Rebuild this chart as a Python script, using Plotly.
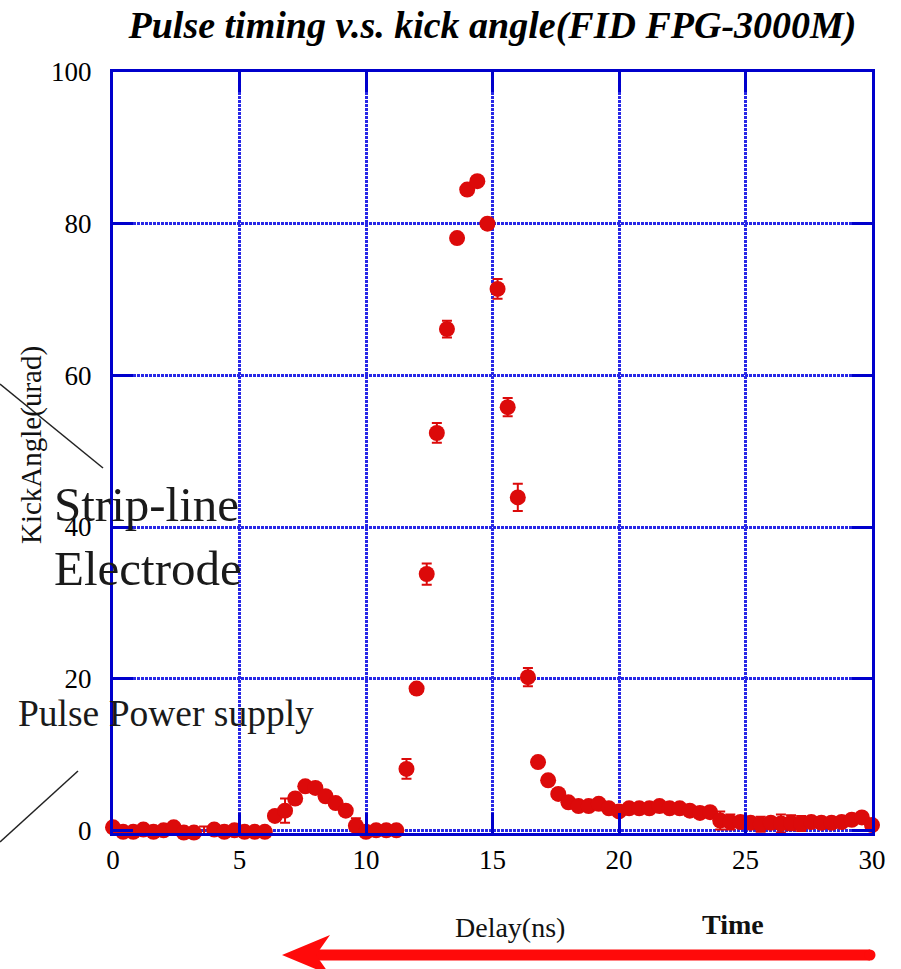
import numpy as np
import plotly.graph_objects as go

# Delay scan (ns) and measured kick angle (urad)
delay_ns = np.round(np.arange(0, 30.0001, 0.4), 1).tolist()
kick_urad = [
    0.4, -0.2, -0.2, 0.1, -0.2, 0.0, 0.4, -0.3, -0.3, -1.0,
    0.1, -0.2, 0.0, -0.2, -0.2, -0.2, 1.9, 2.6, 4.2, 5.8,
    5.6, 4.5, 3.6, 2.6, 0.6, -0.2, 0.0, 0.0, 0.0, 8.1,
    18.7, 33.8, 52.4, 66.1, 78.1, 84.5, 85.6, 80.0, 71.4, 55.8,
    43.9, 20.2, 9.0, 6.6, 4.8, 3.7, 3.2, 3.2, 3.5, 2.9,
    2.5, 2.9, 2.9, 2.9, 3.2, 2.9, 2.9, 2.6, 2.3, 2.4,
    1.3, 1.1, 1.1, 1.0, 0.8, 1.0, 0.9, 1.0, 0.9, 1.1,
    1.0, 1.0, 1.1, 1.4, 1.7, 0.7,
]
kick_err = [
    0.4, 0.4, 0.4, 0.4, 0.4, 0.4, 0.4, 0.4, 0.4, 1.5,
    0.4, 0.4, 0.4, 0.4, 0.4, 0.4, 0.5, 1.6, 0.5, 0.5,
    0.5, 0.5, 0.5, 0.5, 1.0, 0.4, 0.4, 0.4, 0.4, 1.3,
    0.6, 1.4, 1.3, 1.1, 0.6, 0.6, 0.6, 0.6, 1.3, 1.2,
    1.8, 1.2, 0.6, 0.5, 0.5, 0.5, 0.5, 0.5, 0.5, 0.5,
    0.5, 0.5, 0.5, 0.5, 0.5, 0.5, 0.5, 0.5, 0.5, 0.5,
    1.2, 1.0, 0.5, 0.5, 1.0, 0.5, 1.2, 1.0, 1.0, 0.5,
    0.5, 0.5, 0.5, 0.5, 0.5, 0.5,
]
x_ticks = [0, 5, 10, 15, 20, 25, 30]
y_ticks = [0, 20, 40, 60, 80, 100]
y_range = [-0.35, 100]

x = np.array(delay_ns)
y = np.array(kick_urad)
e = np.array(kick_err)
below = y < y_range[0]          # points that fall under the axis floor

FONT = "Liberation Serif"
RED = "#DC0A0A"
BLUE = "#0000CC"
GRID = "rgb(40,40,230)"

# plot-area edges in page pixels, used to place the decorations
L, R, T, B = 113, 872, 72, 833
W, H = 901, 969


def px(xp):
    return (xp - L) / (R - L)


def py(yp):
    return (B - yp) / (B - T)


fig = go.Figure()

err_style = dict(type="data", visible=True, color=RED, thickness=2, width=5)
fig.add_trace(go.Scatter(
    x=x[~below], y=y[~below], mode="markers",
    marker=dict(size=16, color=RED, line=dict(width=0)),
    error_y=dict(array=e[~below], **err_style),
    cliponaxis=False, showlegend=False,
))
fig.add_trace(go.Scatter(
    x=x[below], y=y[below], mode="markers",
    marker=dict(size=16, color=RED, line=dict(width=0)),
    error_y=dict(array=e[below], **err_style),
    cliponaxis=True, showlegend=False,
))

axis_common = dict(
    showline=True, linecolor=BLUE, linewidth=3, mirror="ticks",
    ticks="inside", ticklen=20, tickwidth=3, tickcolor=BLUE,
    showgrid=True, gridcolor=GRID, gridwidth=3, griddash="3px,1px",
    zeroline=False,
    tickfont=dict(family=FONT, size=27, color="black"),
)

fig.update_xaxes(range=[0, 30], tickvals=x_ticks, ticklabelstandoff=1, **axis_common)
fig.update_yaxes(range=y_range, tickvals=y_ticks, ticklabelstandoff=13, **axis_common)

annotations = [
    dict(text="KickAngle(urad)", x=px(31), y=py(445), textangle=-90,
         font=dict(family=FONT, size=29, color="#111")),
    dict(text="Delay(ns)", x=px(510), y=py(927),
         font=dict(family=FONT, size=28, color="#111")),
    dict(text="<b>Time</b>", x=px(733), y=py(925),
         font=dict(family=FONT, size=28, color="#111")),
    dict(text="Strip-line<br>Electrode", x=px(52), y=py(536), xanchor="left",
         align="left", font=dict(family=FONT, size=49, color="#1a1a1a")),
    dict(text="Pulse Power supply", x=px(16), y=py(713), xanchor="left",
         font=dict(family=FONT, size=37.5, color="#1a1a1a")),
]
for a in annotations:
    a.update(xref="paper", yref="paper", showarrow=False)
    a.setdefault("xanchor", "center")
    a.setdefault("yanchor", "middle")

shapes = [
    # pointer lines toward the hardware labels
    dict(type="line", x0=px(0), y0=py(384), x1=px(103), y1=py(468),
         line=dict(color="#222", width=1.5)),
    dict(type="line", x0=px(0), y0=py(842), x1=px(78), y1=py(771),
         line=dict(color="#222", width=1.5)),
    # red time arrow
    dict(type="line", x0=px(312), y0=py(955), x1=px(870), y1=py(955),
         line=dict(color="#FF0A0A", width=11)),
    dict(type="circle", x0=px(864.5), y0=py(949.5), x1=px(875.5), y1=py(960.5),
         fillcolor="#FF0A0A", line=dict(width=0)),
    dict(type="path",
         path=f"M {px(282)} {py(955)} L {px(330)} {py(935)} L {px(316)} {py(955)} "
              f"L {px(330)} {py(975)} Z",
         fillcolor="#FF0A0A", line=dict(width=0)),
]
for s in shapes:
    s.update(xref="paper", yref="paper", layer="above")

fig.update_layout(
    width=W, height=H,
    margin=dict(l=L, r=W - R, t=T, b=H - B),
    paper_bgcolor="white", plot_bgcolor="white",
    title=dict(text="<b><i>Pulse timing v.s. kick angle(FID FPG-3000M)</i></b>",
               x=0.5, xref="paper", xanchor="center",
               y=1 - 25 / H, yanchor="middle",
               font=dict(family=FONT, size=38, color="black")),
    annotations=annotations,
    shapes=shapes,
)

fig.write_html("out.html")
